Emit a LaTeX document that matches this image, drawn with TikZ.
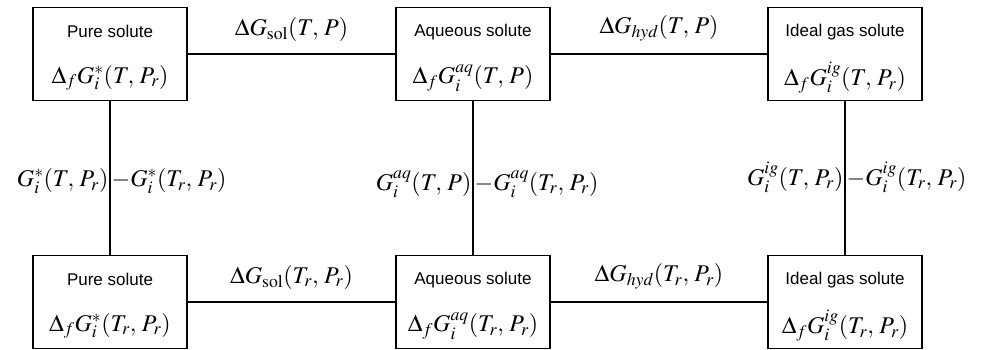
\documentclass[tikz,border=0pt]{standalone}
\usepackage{mathptmx}
\usepackage{fontspec}
\setsansfont{Liberation Sans}
\usepackage{tikz}
\usetikzlibrary{positioning}

\begin{document}
\begin{tikzpicture}[x=1pt, y=-1pt, line width=1.3pt,
    state/.style={draw, rectangle, minimum width=154pt, minimum height=93pt, inner sep=0pt},
    hdr/.style={font=\sffamily\fontsize{17}{20}\selectfont, inner sep=0pt},
    eq/.style={font=\fontsize{24}{28}\selectfont, inner ysep=0pt, inner xsep=1pt}]
    \useasboundingbox (0,0) rectangle (982,350);
    % Stavy nahore (T, P)
    \node[state] (pure1) at (110,54) {};
    \node[hdr] (pure1h) at ([yshift=-25pt]pure1.north) {Pure solute};
    \node[eq] (pure1g) at ([yshift=-71pt]pure1.north) {$\Delta_f G_i^{*}(T,\,P_r)$};
    \node[state] (aq1) at (473,54) {};
    \node[hdr] (aq1h) at ([yshift=-25pt]aq1.north) {Aqueous solute};
    \node[eq] (aq1g) at ([yshift=-71pt]aq1.north) {$\Delta_f G_i^{aq}(T,\,P)$};
    \node[state] (ig1) at (845,54) {};
    \node[hdr] (ig1h) at ([yshift=-25pt]ig1.north) {Ideal gas solute};
    \node[eq] (ig1g) at ([yshift=-71pt]ig1.north) {$\Delta_f G_i^{ig}(T,\,P_r)$};
    % Stavy dole (T_r, P_r)
    \node[state] (pure2) at (110,302) {};
    \node[hdr] (pure2h) at ([yshift=-25pt]pure2.north) {Pure solute};
    \node[eq] (pure2g) at ([yshift=-71pt]pure2.north) {$\Delta_f G_i^{*}(T_r,\,P_r)$};
    \node[state] (aq2) at (473,302) {};
    \node[hdr] (aq2h) at ([yshift=-25pt]aq2.north) {Aqueous solute};
    \node[eq] (aq2g) at ([yshift=-71pt]aq2.north) {$\Delta_f G_i^{aq}(T_r,\,P_r)$};
    \node[state] (ig2) at (845,302) {};
    \node[hdr] (ig2h) at ([yshift=-25pt]ig2.north) {Ideal gas solute};
    \node[eq] (ig2g) at ([yshift=-71pt]ig2.north) {$\Delta_f G_i^{ig}(T_r,\,P_r)$};
    % Vodorovne prechody
    \draw (pure1) -- (aq1) node[eq, midway, above=12pt] (sol1) {$\Delta G_{\mathrm{sol}}(T,\,P)$};
    \draw (aq1) -- (ig1) node[eq, midway, above=12pt] (hyd1) {$\Delta G_{hyd}(T,\,P)$};
    \draw (pure2) -- (aq2) node[eq, midway, above=12pt] (sol2) {$\Delta G_{\mathrm{sol}}(T_r,\,P_r)$};
    \draw (aq2) -- (ig2) node[eq, midway, above=12pt] (hyd2) {$\Delta G_{hyd}(T_r,\,P_r)$};
    % Svisle prechody
    \draw (pure1) -- (pure2) coordinate[midway, yshift=-3pt] (mp);
    \node[eq, anchor=east] (gp1) at (mp) {$G_i^{*}(T,\,P_r)$};
    \node[eq, anchor=west] (gp2) at (mp) {$-G_i^{*}(T_r,\,P_r)$};
    \draw (aq1) -- (aq2) coordinate[midway, yshift=-6pt] (ma);
    \node[eq, anchor=east] (ga1) at (ma) {$G_i^{aq}(T,\,P)$};
    \node[eq, anchor=west] (ga2) at (ma) {$-G_i^{aq}(T_r,\,P_r)$};
    \draw (ig1) -- (ig2) coordinate[midway, yshift=1pt] (mi);
    \node[eq, anchor=east] (gi1) at (mi) {$G_i^{ig}(T,\,P_r)$};
    \node[eq, anchor=west] (gi2) at (mi) {$-G_i^{ig}(T_r,\,P_r)$};
\end{tikzpicture}
\end{document}
